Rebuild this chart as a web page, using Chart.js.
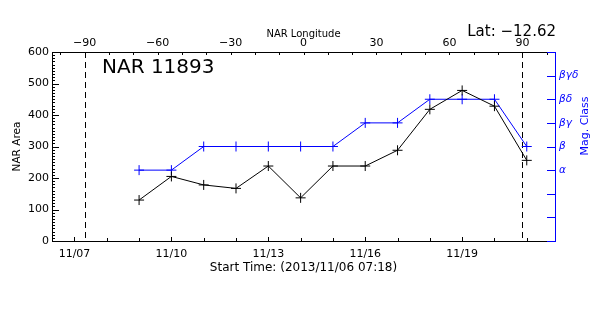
<!DOCTYPE html>
<html>
<head>
<meta charset="UTF-8">
<title>NAR 11893</title>
<script src="https://cdn.jsdelivr.net/npm/chart.js"></script>
<style>
  html, body { margin: 0; padding: 0; background: #fff; }
  #wrap { width: 600px; height: 315px; }
</style>
</head>
<body>
<div id="wrap"><canvas id="c" width="600" height="315"></canvas></div>
<script>
// data
const startTime = '2013/11/06 07:18';
const dates = ['11/09', '11/10', '11/11', '11/12', '11/13', '11/14', '11/15',
               '11/16', '11/17', '11/18', '11/19', '11/20', '11/21'];
const areaValues = [130, 205, 178, 167, 238, 137, 238, 238, 288, 418, 478, 428, 256];
const magClasses = ['α', 'α', 'β', 'β', 'β', 'β', 'β', 'βγ', 'βγ', 'βδ', 'βδ', 'βδ', 'β'];

// axis labels
const xTickLabels = ['11/07', '11/10', '11/13', '11/16', '11/19'];
const xMinorDays = ['11/07', '11/08', '11/09', '11/10', '11/11', '11/12', '11/13', '11/14',
                    '11/15', '11/16', '11/17', '11/18', '11/19', '11/20', '11/21'];
const classTicks = ['', '', 'α', 'β', 'βγ', 'βδ', 'βγδ'];   // values 1..7
const lonTicks = [-90, -60, -30, 0, 30, 60, 90];
const limbLongitudes = [-90, 90];
const regionLabel = 'NAR 11893';
const latLabel = 'Lat: \u221212.62';

const FONT = "'DejaVu Sans', sans-serif";
const BLUE = '#0000ff';

// days since start time
const startDay = +startTime.split(' ')[0].split('/')[2];
const startFrac = startTime.split(' ')[1].split(':').reduce((h, m) => +h * 60 + +m) / 1440;
const dayOffset = d => (+d.split('/')[1] - startDay) - startFrac;
const classLevel = c => classTicks.indexOf(c) + 1;

const fixSize = (prop, v) => s => { s[prop] = v; };

function tick(ctx, x1, y1, x2, y2) {
  ctx.beginPath();
  ctx.moveTo(x1, y1);
  ctx.lineTo(x2, y2);
  ctx.stroke();
}

// IDL style: inward ticks, limb lines, labels inside the frame
const idlAxes = {
  id: 'idlAxes',
  beforeDatasetsDraw(chart) {
    const { ctx, chartArea: a, scales } = chart;
    ctx.save();
    ctx.strokeStyle = '#000';
    ctx.lineWidth = 1;
    ctx.setLineDash([6, 4]);
    limbLongitudes.forEach(l => {
      const px = Math.round(scales.x2.getPixelForValue(l)) + 0.5;
      tick(ctx, px, a.top, px, a.bottom);
    });
    ctx.restore();
  },
  afterDraw(chart) {
    const { ctx, chartArea: a, scales } = chart;
    const L = Math.round(a.left), R = Math.round(a.right);
    const T = Math.round(a.top), B = Math.round(a.bottom);
    ctx.save();
    ctx.setLineDash([]);
    ctx.lineWidth = 1;
    ctx.strokeStyle = '#000';
    // left ticks, minor every 10
    for (let v = 0; v <= 600; v += 10) {
      const y = Math.round(scales.y.getPixelForValue(v)) + 0.5;
      tick(ctx, L, y, L + (v % 100 === 0 ? 7 : 3), y);
    }
    // bottom ticks, one per day
    xMinorDays.forEach(d => {
      const x = Math.round(scales.x.getPixelForValue(dayOffset(d))) + 0.5;
      tick(ctx, x, B, x, B - (xTickLabels.includes(d) ? 4 : 3));
    });
    // top ticks, every 10 degrees
    for (let l = -100; l <= 100; l += 10) {
      const x = Math.round(scales.x2.getPixelForValue(l)) + 0.5;
      tick(ctx, x, T, x, T + 3);
    }

    // right (blue) ticks
    ctx.strokeStyle = BLUE;
    for (let v = 0; v <= 8; v++) {
      const y = Math.round(scales.y1.getPixelForValue(v)) + 0.5;
      tick(ctx, R - 8, y, R + 1, y);
    }

    // texts
    ctx.fillStyle = '#000';
    ctx.textBaseline = 'alphabetic';
    ctx.textAlign = 'left';
    ctx.font = '20px ' + FONT;
    ctx.fillText(regionLabel, 102, 73);
    ctx.textAlign = 'right';
    ctx.font = '15px ' + FONT;
    ctx.fillText(latLabel, 556, 36);

    ctx.fillStyle = BLUE;
    ctx.font = '11px ' + FONT;
    ctx.translate(585, 126);
    ctx.rotate(-Math.PI / 2);
    ctx.textAlign = 'center';
    ctx.textBaseline = 'middle';
    ctx.fillText('Mag. Class', 0, 0);
    ctx.restore();
  }
};

new Chart(document.getElementById('c'), {
  type: 'line',
  data: {
    datasets: [
      {
        label: 'NAR Area',
        data: dates.map((d, i) => ({ x: dayOffset(d), y: areaValues[i] })),
        borderColor: '#000',
        borderWidth: 1,
        pointStyle: 'cross',
        pointRadius: 5,
        pointBorderColor: '#000',
        pointBorderWidth: 1,
        yAxisID: 'y',
        xAxisID: 'x'
      },
      {
        label: 'Mag. Class',
        data: dates.map((d, i) => ({ x: dayOffset(d), y: classLevel(magClasses[i]) })),
        borderColor: BLUE,
        borderWidth: 1,
        pointStyle: 'cross',
        pointRadius: 5,
        pointBorderColor: BLUE,
        pointBorderWidth: 1,
        yAxisID: 'y1',
        xAxisID: 'x'
      }
    ]
  },
  options: {
    responsive: false,
    animation: false,
    layout: { padding: 0, autoPadding: false },
    plugins: { legend: { display: false }, tooltip: { enabled: false } },
    scales: {
      x: {
        type: 'linear',
        position: 'bottom',
        min: 0,
        max: 15.57,
        afterFit: fixSize('height', 74),
        afterBuildTicks: s => { s.ticks = xTickLabels.map(l => ({ value: dayOffset(l) })); },
        grid: { display: false, drawTicks: false },
        border: { display: true, color: '#000', width: 1 },
        ticks: {
          autoSkip: false, maxRotation: 0, padding: 7,
          color: '#000', font: { family: FONT, size: 11 },
          callback: (v, i) => xTickLabels[i]
        },
        title: {
          display: true, text: 'Start Time: (' + startTime + ')',
          color: '#000', font: { family: FONT, size: 12 },
          padding: { top: 0, bottom: 40 }
        }
      },
      x2: {
        type: 'linear',
        position: 'top',
        min: -103.4,
        max: 103.4,
        afterFit: fixSize('height', 52),
        afterBuildTicks: s => { s.ticks = lonTicks.map(v => ({ value: v })); },
        grid: { display: false, drawTicks: false },
        border: { display: true, color: '#000', width: 1 },
        ticks: {
          autoSkip: false, maxRotation: 0, padding: 2,
          color: '#000', font: { family: FONT, size: 11 },
          callback: v => (v < 0 ? '\u2212' + Math.abs(v) : '' + v)
        },
        title: {
          display: true, text: 'NAR Longitude',
          color: '#000', font: { family: FONT, size: 10 },
          padding: { top: 28, bottom: 0 }
        }
      },
      y: {
        type: 'linear',
        position: 'left',
        min: 0,
        max: 600,
        afterFit: fixSize('width', 52),
        grid: { display: false, drawTicks: false },
        border: { display: true, color: '#000', width: 1 },
        ticks: {
          stepSize: 100, padding: 3,
          color: '#000', font: { family: FONT, size: 11 }
        },
        title: {
          display: true, text: 'NAR Area',
          color: '#000', font: { family: FONT, size: 10.5 },
          padding: { top: 11, bottom: 0 }
        }
      },
      y1: {
        type: 'linear',
        position: 'right',
        min: 0,
        max: 8,
        afterFit: fixSize('width', 45),
        afterBuildTicks: s => { s.ticks = classTicks.map((c, i) => ({ value: i + 1 })); },
        grid: { display: false, drawTicks: false },
        border: { display: true, color: BLUE, width: 1 },
        ticks: {
          autoSkip: false, padding: 4,
          color: BLUE, font: { family: FONT, size: 10.5, style: 'italic' },
          callback: (v, i) => classTicks[i]
        }
      }
    }
  },
  plugins: [idlAxes]
});
</script>
</body>
</html>
